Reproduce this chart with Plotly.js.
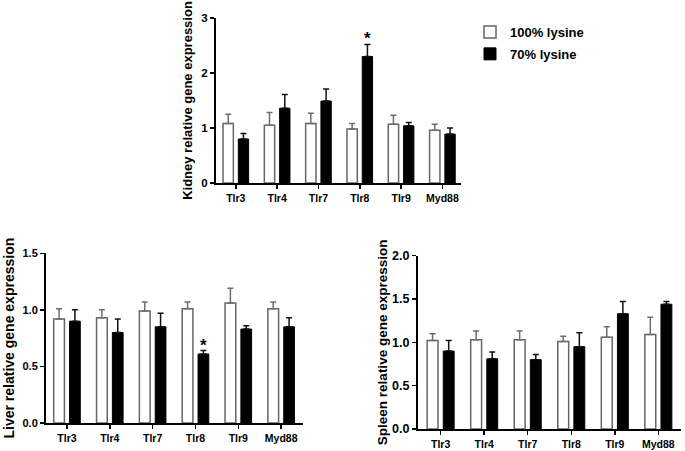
<!DOCTYPE html>
<html>
<head>
<meta charset="utf-8">
<script src="https://cdn.plot.ly/plotly-3.0.1.min.js"></script>
<style>html,body{margin:0;padding:0;background:#fff;}#chart{width:685px;height:451px;}</style>
</head>
<body>
<div id="chart"></div>
<script>
// ---- data ----
var categories = ['Tlr3', 'Tlr4', 'Tlr7', 'Tlr8', 'Tlr9', 'Myd88'];
var seriesNames = ['100% lysine', '70% lysine'];

var kidney100 = [1.08, 1.05, 1.08, 0.98, 1.07, 0.96];
var kidney100Err = [0.17, 0.23, 0.19, 0.10, 0.16, 0.11];
var kidney70 = [0.80, 1.36, 1.49, 2.30, 1.04, 0.89];
var kidney70Err = [0.10, 0.25, 0.22, 0.22, 0.06, 0.11];

var liver100 = [0.92, 0.93, 0.99, 1.01, 1.06, 1.01];
var liver100Err = [0.09, 0.07, 0.08, 0.06, 0.13, 0.06];
var liver70 = [0.90, 0.80, 0.85, 0.61, 0.83, 0.85];
var liver70Err = [0.10, 0.12, 0.12, 0.03, 0.03, 0.08];

var spleen100 = [1.02, 1.03, 1.03, 1.01, 1.06, 1.09];
var spleen100Err = [0.08, 0.10, 0.10, 0.06, 0.12, 0.20];
var spleen70 = [0.90, 0.81, 0.80, 0.95, 1.33, 1.44];
var spleen70Err = [0.12, 0.08, 0.06, 0.16, 0.14, 0.03];

var kidneyTitle = 'Kidney relative gene expression';
var liverTitle = 'Liver relative gene expression';
var spleenTitle = 'Spleen relative gene expression';
var significance = '*';

// ---- helpers ----
var FONT = 'Liberation Sans, Arial, sans-serif';
function zeros(n){ var a=[]; for(var i=0;i<n;i++) a.push(0); return a; }

function whiteTrace(vals, errs, xa, ya, showLeg){
  return {
    type: 'bar', x: categories, y: vals, name: seriesNames[0],
    xaxis: xa, yaxis: ya, showlegend: showLeg, legendgroup: 'a',
    offset: -0.31, width: 0.25,
    marker: {color: '#ffffff', line: {color: '#666666', width: 1.5}},
    error_y: {type: 'data', symmetric: false, array: errs, arrayminus: zeros(errs.length),
              color: '#6e6e6e', thickness: 1.5, width: 3},
    hoverinfo: 'x+y'
  };
}
function blackTrace(vals, errs, xa, ya, showLeg){
  return {
    type: 'bar', x: categories, y: vals, name: seriesNames[1],
    xaxis: xa, yaxis: ya, showlegend: showLeg, legendgroup: 'b',
    offset: 0.06, width: 0.25,
    marker: {color: '#000000', line: {color: '#000000', width: 1}},
    error_y: {type: 'data', symmetric: false, array: errs, arrayminus: zeros(errs.length),
              color: '#111111', thickness: 1.5, width: 3},
    hoverinfo: 'x+y'
  };
}

var data = [
  whiteTrace(kidney100, kidney100Err, 'x', 'y', true),
  blackTrace(kidney70, kidney70Err, 'x', 'y', true),
  whiteTrace(liver100, liver100Err, 'x2', 'y2', false),
  blackTrace(liver70, liver70Err, 'x2', 'y2', false),
  whiteTrace(spleen100, spleen100Err, 'x3', 'y3', false),
  blackTrace(spleen70, spleen70Err, 'x3', 'y3', false)
];

function xAxis(domain, range, anchor){
  return {
    domain: domain, range: range, anchor: anchor, type: 'category',
    showline: true, linecolor: '#000', linewidth: 2, mirror: false,
    ticks: 'outside', ticklen: 4, tickwidth: 1.5, tickcolor: '#000',
    showgrid: false, zeroline: false, fixedrange: true,
    tickfont: {family: FONT, size: 10.5, color: '#000', weight: 'bold'}
  };
}
function yAxis(domain, range, dtick, fmt, anchor, title, tsize, tickSize, standoff){
  return {
    domain: domain, range: range, anchor: anchor, dtick: dtick, tick0: 0, tickformat: fmt,
    showline: true, linecolor: '#000', linewidth: 2,
    ticks: 'outside', ticklen: 4, tickwidth: 1.5, tickcolor: '#000',
    showgrid: false, zeroline: false, fixedrange: true,
    tickfont: {family: FONT, size: tickSize, color: '#000', weight: 'bold'},
    title: {text: title, standoff: standoff, font: {family: FONT, size: tsize, color: '#000', weight: 'bold'}}
  };
}

var layout = {
  width: 685, height: 451,
  margin: {l: 0, r: 0, t: 0, b: 0, pad: 0},
  paper_bgcolor: '#ffffff', plot_bgcolor: '#ffffff',
  barmode: 'group',
  showlegend: true,
  legend: {
    x: 470/685, y: 1 - 17/451, xanchor: 'left', yanchor: 'top',
    bgcolor: 'rgba(0,0,0,0)', borderwidth: 0, tracegroupgap: 2,
    font: {family: FONT, size: 13, color: '#000', weight: 'bold'}
  },
  xaxis: xAxis([216/685, 461/685], [-0.48, 5.45], 'y'),
  yaxis: yAxis([1 - 183/451, 1 - 18/451], [0, 3], 1, 'd', 'x', kidneyTitle, 13, 11.5, 6),
  xaxis2: xAxis([46/685, 303/685], [-0.49, 5.51], 'y2'),
  yaxis2: yAxis([28/451, 1 - 253.3/451], [0, 1.5], 0.5, '.1f', 'x2', liverTitle, 14, 11, 5),
  xaxis3: xAxis([418/685, 681/685], [-0.52, 5.52], 'y3'),
  yaxis3: yAxis([22/451, 1 - 255.7/451], [0, 2], 0.5, '.1f', 'x3', spleenTitle, 13.5, 12.5, 1),
  annotations: [
    {xref: 'x', yref: 'y', x: categories[3], y: kidney70[3] + kidney70Err[3], text: significance,
     showarrow: false, xshift: 7.7, yanchor: 'bottom', yshift: -6,
     font: {family: FONT, size: 17, color: '#000', weight: 'bold'}},
    {xref: 'x2', yref: 'y2', x: categories[3], y: liver70[3] + liver70Err[3], text: significance,
     showarrow: false, xshift: 7.9, yanchor: 'bottom', yshift: -6,
     font: {family: FONT, size: 17, color: '#000', weight: 'bold'}}
  ]
};

Plotly.newPlot('chart', data, layout, {staticPlot: true, displayModeBar: false});
</script>
</body>
</html>
